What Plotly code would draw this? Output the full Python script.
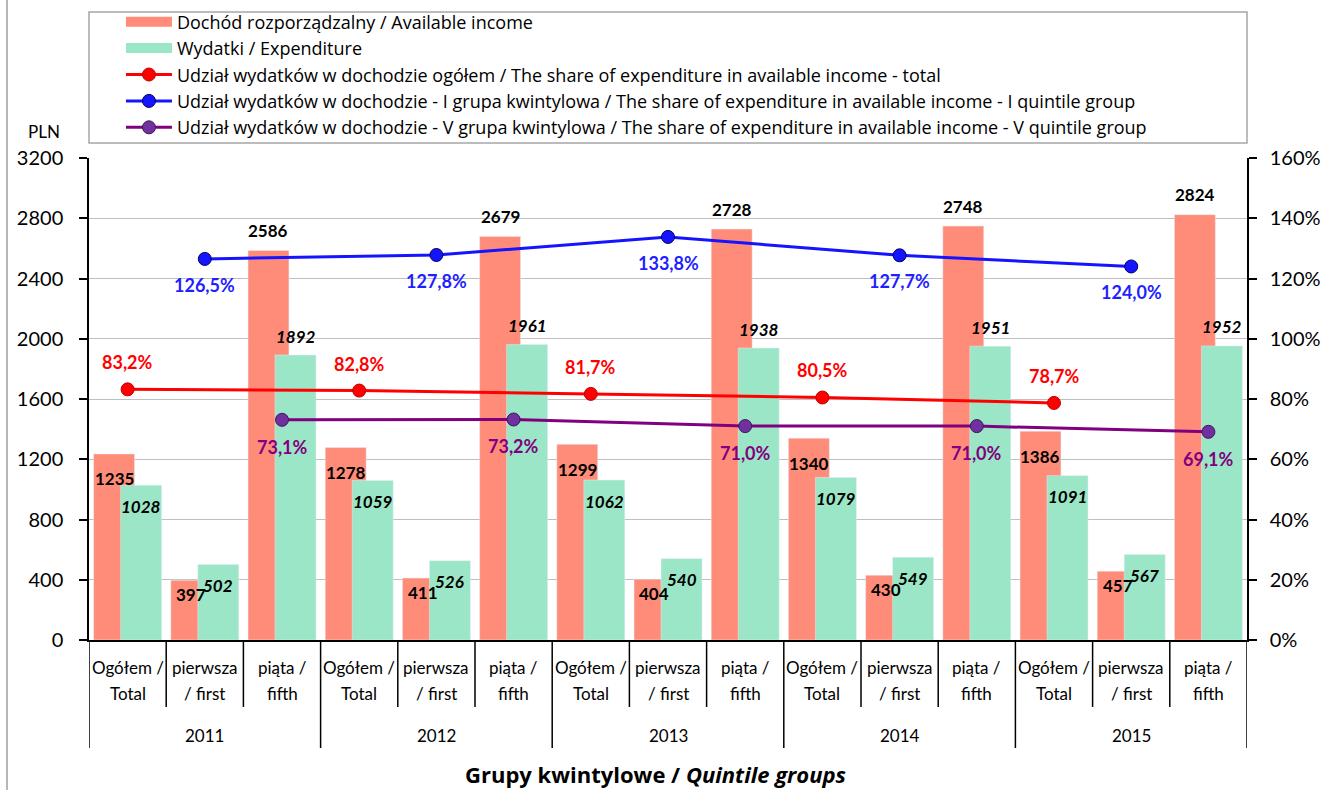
import plotly.graph_objects as go

# ---------------- data ----------------
years = ["2011", "2012", "2013", "2014", "2015"]
groups_line1 = ["Ogółem /", "pierwsza", "piąta /"]
groups_line2 = ["Total", "/ first", "fifth"]

income = {
    "total": [1235, 1278, 1299, 1340, 1386],
    "first": [397, 411, 404, 430, 457],
    "fifth": [2586, 2679, 2728, 2748, 2824],
}
expenditure = {
    "total": [1028, 1059, 1062, 1079, 1091],
    "first": [502, 526, 540, 549, 567],
    "fifth": [1892, 1961, 1938, 1951, 1952],
}
share_total = [83.2, 82.8, 81.7, 80.5, 78.7]
share_first = [126.5, 127.8, 133.8, 127.7, 124.0]
share_fifth = [73.1, 73.2, 71.0, 71.0, 69.1]

left_ticks = [0, 400, 800, 1200, 1600, 2000, 2400, 2800, 3200]
right_ticks = [0, 20, 40, 60, 80, 100, 120, 140, 160]

names = [
    "Dochód rozporządzalny / Available income",
    "Wydatki / Expenditure",
    "Udział wydatków w dochodzie ogółem / The share of expenditure in available income - total",
    "Udział wydatków w dochodzie - I grupa kwintylowa / The share of expenditure in available income - I quintile group",
    "Udział wydatków w dochodzie - V grupa kwintylowa / The share of expenditure in available income - V quintile group",
]

# ---------------- derived ----------------
gkeys = ["total", "first", "fifth"]
xs, inc_vals, exp_vals, gtype = [], [], [], []
for yi in range(len(years)):
    for gi, k in enumerate(gkeys):
        xs.append(yi * 3 + gi)
        inc_vals.append(income[k][yi])
        exp_vals.append(expenditure[k][yi])
        gtype.append(k)

x_total = [yi * 3 + 0 for yi in range(len(years))]
x_first = [yi * 3 + 1 for yi in range(len(years))]
x_fifth = [yi * 3 + 2 for yi in range(len(years))]

FONT = "Lato"
LEG_FONT = "Open Sans"
INC_COLOR = "#FF8C78"
EXP_COLOR = "#9AE6C6"
BW = 0.53
INC_OFF = -0.44
EXP_OFF = -0.09

fig = go.Figure()
fig.add_trace(go.Bar(x=xs, y=inc_vals, name=names[0], marker_color=INC_COLOR,
                     width=BW, offset=INC_OFF, hoverinfo="skip", showlegend=False))
fig.add_trace(go.Bar(x=xs, y=exp_vals, name=names[1], marker_color=EXP_COLOR,
                     width=BW, offset=EXP_OFF, hoverinfo="skip", showlegend=False))

# legend stand-ins for the bars (wide colour swatches)
fig.add_trace(go.Scatter(x=[None], y=[None], name=names[0], mode="lines",
                         line=dict(color=INC_COLOR, width=12)))
fig.add_trace(go.Scatter(x=[None], y=[None], name=names[1], mode="lines",
                         line=dict(color=EXP_COLOR, width=12)))

def line_trace(x, y, name, lc, mc, ml):
    return go.Scatter(x=x, y=y, name=name, yaxis="y2", mode="lines+markers",
                      line=dict(color=lc, width=3),
                      marker=dict(size=13, color=mc, line=dict(color=ml, width=1)),
                      hoverinfo="skip")

fig.add_trace(line_trace(x_total, share_total, names[2], "#FF0000", "#FF0000", "#C00000"))
fig.add_trace(line_trace(x_first, share_first, names[3], "#1414FF", "#1414FF", "#000060"))
fig.add_trace(line_trace(x_fifth, share_fifth, names[4], "#800080", "#7030A0", "#3A1A55"))

ann = []
# bar value labels
inc_shift = {"total": -25, "first": -14, "fifth": 20}
exp_shift = {"total": -21, "first": -21, "fifth": 19}
for x, iv, ev, k in zip(xs, inc_vals, exp_vals, gtype):
    ann.append(dict(x=x + INC_OFF + BW / 2, y=iv, xref="x", yref="y", text=f"<b>{iv}</b>",
                    showarrow=False, yshift=inc_shift[k], yanchor="middle",
                    font=dict(family=FONT, size=17, color="black")))
    ann.append(dict(x=x + EXP_OFF + BW / 2, y=ev, xref="x", yref="y", text=f"<b><i>{ev}</i></b>",
                    showarrow=False, yshift=exp_shift[k], yanchor="middle",
                    font=dict(family=FONT, size=17, color="black")))

def pct(v):
    return f"{v:.1f}".replace(".", ",") + "%"

for xv, vals, col, sh in [(x_total, share_total, "#FF0000", 27),
                          (x_first, share_first, "#1F1FFF", -26),
                          (x_fifth, share_fifth, "#800080", -27)]:
    for x, v in zip(xv, vals):
        ann.append(dict(x=x, y=v, xref="x", yref="y2", text=f"<b>{pct(v)}</b>",
                        showarrow=False, yshift=sh, yanchor="middle",
                        font=dict(family=FONT, size=18, color=col)))

# category labels
for i, x in enumerate(xs):
    gi = i % 3
    ann.append(dict(x=x, y=0, xref="x", yref="paper", text=groups_line1[gi], showarrow=False,
                    yshift=-27, yanchor="middle", font=dict(family=FONT, size=17, color="black")))
    ann.append(dict(x=x, y=0, xref="x", yref="paper", text=groups_line2[gi], showarrow=False,
                    yshift=-53, yanchor="middle", font=dict(family=FONT, size=17, color="black")))
for yi, yr in enumerate(years):
    ann.append(dict(x=yi * 3 + 1, y=0, xref="x", yref="paper", text=yr, showarrow=False,
                    yshift=-95, yanchor="middle", font=dict(family=FONT, size=17, color="black")))

# axis title & unit
ann.append(dict(x=0.4896, y=-0.277, xref="paper", yref="paper", xanchor="center",
                text="<b>Grupy kwintylowe / <i>Quintile groups</i></b>", showarrow=False,
                yanchor="middle", font=dict(family=LEG_FONT, size=22, color="black")))
ann.append(dict(x=-0.0389, y=1.054, xref="paper", yref="paper", xanchor="center", text="PLN",
                showarrow=False, yanchor="middle", font=dict(family=FONT, size=17, color="black")))

shapes = []
# category separators
n = len(xs)
for b in range(n + 1):
    xb = b - 0.5
    yend = -0.224 if b % 3 == 0 else -0.139
    shapes.append(dict(type="line", xref="x", yref="paper", x0=xb, x1=xb, y0=0, y1=yend,
                       line=dict(color="black", width=1.5)))
# legend box
shapes.append(dict(type="rect", xref="paper", yref="paper", x0=0, x1=1.0, y0=1.031, y1=1.303,
                   line=dict(color="#A6A6A6", width=1.5), fillcolor="rgba(0,0,0,0)"))
# outer left border
shapes.append(dict(type="line", xref="paper", yref="paper", x0=-0.0708, x1=-0.0708, y0=-0.4, y1=1.4,
                   line=dict(color="#A0A0A0", width=1.5)))

fig.update_layout(
    width=1326, height=790,
    margin=dict(l=89, r=79, t=158, b=150, autoexpand=False),
    paper_bgcolor="white", plot_bgcolor="white",
    barmode="overlay",
    font=dict(family=FONT, size=17, color="black"),
    showlegend=True,
    legend=dict(x=0.0276, y=1.3205, xanchor="left", yanchor="top", bgcolor="rgba(0,0,0,0)",
                font=dict(family=LEG_FONT, size=18, color="black"), itemwidth=46,
                traceorder="normal", itemclick=False, itemdoubleclick=False),
    xaxis=dict(range=[-0.5, n - 0.5], showticklabels=False, ticks="", showgrid=False,
               zeroline=False, showline=True, linecolor="black", linewidth=1.5, fixedrange=True,
               automargin=False),
    yaxis=dict(range=[0, 3200], tickvals=left_ticks, ticktext=[str(t) for t in left_ticks],
               showgrid=True, gridcolor="#BFBFBF", gridwidth=1, zeroline=False,
               showline=True, linecolor="black", linewidth=1.5, ticks="outside", ticklen=8,
               tickcolor="black", tickwidth=1.5, ticklabelstandoff=12, automargin=False,
               tickfont=dict(family=FONT, size=20), fixedrange=True),
    yaxis2=dict(range=[0, 160], overlaying="y", side="right", tickvals=right_ticks,
                ticktext=[f"{t}%" for t in right_ticks], showgrid=False, zeroline=False,
                showline=True, linecolor="black", linewidth=1.5, ticks="outside", ticklen=8,
                tickcolor="black", tickwidth=1.5, ticklabelstandoff=9, automargin=False,
                tickfont=dict(family=FONT, size=20), fixedrange=True),
    annotations=ann, shapes=shapes,
    hovermode=False,
)

fig.write_html("out.html", config={"displayModeBar": False},
               post_script="document.body.style.margin='0px';document.body.style.overflow='hidden';")
